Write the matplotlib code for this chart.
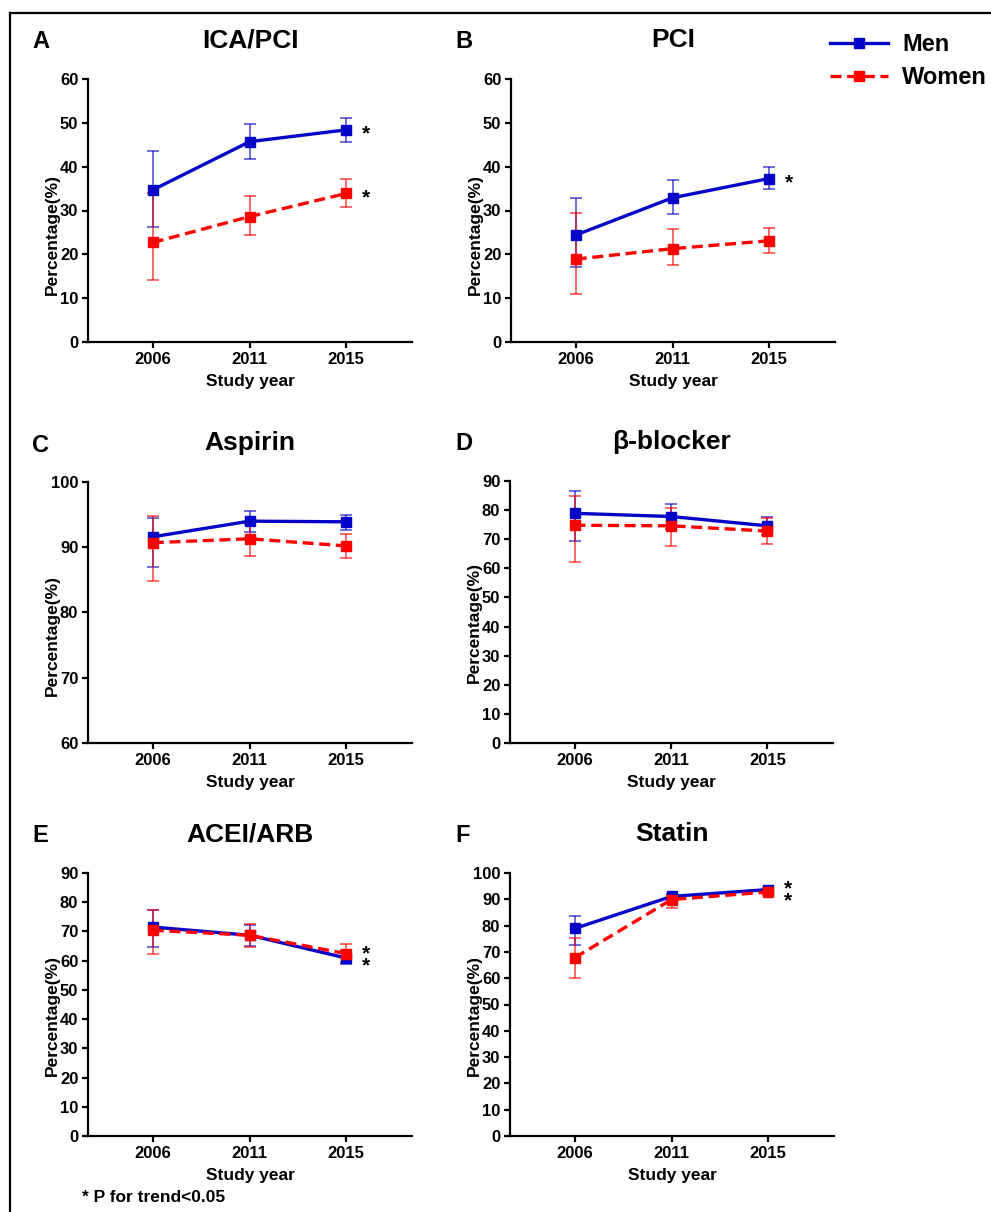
import matplotlib
matplotlib.use('Agg')
import matplotlib.pyplot as plt
from matplotlib.lines import Line2D

plt.rcParams['font.family'] = ['Liberation Sans', 'DejaVu Sans']
plt.rcParams['font.weight'] = 'bold'

years = ['2006', '2011', '2015']
xpos = [1, 2, 3]

# values (estimate, 95% CI lower, upper)
men_icapci = [34.7, 45.7, 48.4]
men_icapci_lo = [26.3, 41.7, 45.7]
men_icapci_hi = [43.6, 49.8, 51.1]
women_icapci = [22.7, 28.6, 33.9]
women_icapci_lo = [14.1, 24.4, 30.9]
women_icapci_hi = [33.9, 33.4, 37.1]

men_pci = [24.4, 32.9, 37.3]
men_pci_lo = [17.1, 29.2, 34.8]
men_pci_hi = [32.8, 36.9, 40.0]
women_pci = [18.9, 21.3, 23.1]
women_pci_lo = [10.9, 17.5, 20.4]
women_pci_hi = [29.5, 25.7, 26.1]

men_asp = [91.6, 94.0, 93.9]
men_asp_lo = [87.0, 92.3, 92.6]
men_asp_hi = [94.5, 95.6, 95.0]
women_asp = [90.7, 91.3, 90.2]
women_asp_lo = [84.9, 88.7, 88.3]
women_asp_hi = [94.8, 93.6, 92.0]

men_bb = [78.9, 77.8, 74.6]
men_bb_lo = [69.5, 73.6, 71.5]
men_bb_hi = [86.7, 82.1, 77.8]
women_bb = [74.8, 74.6, 72.8]
women_bb_lo = [62.3, 67.8, 68.4]
women_bb_hi = [84.9, 80.6, 77.2]

men_acei = [71.5, 68.7, 60.9]
men_acei_lo = [64.7, 64.9, 58.7]
men_acei_hi = [77.5, 72.1, 63.6]
women_acei = [70.4, 68.7, 62.4]
women_acei_lo = [62.2, 64.7, 59.6]
women_acei_hi = [77.5, 72.7, 65.8]

men_statin = [78.9, 91.1, 93.7]
men_statin_lo = [72.8, 89.6, 92.8]
men_statin_hi = [83.8, 92.2, 94.4]
women_statin = [67.8, 89.9, 92.8]
women_statin_lo = [59.9, 86.8, 91.5]
women_statin_hi = [75.1, 91.5, 94.1]

blue = '#0505c8'
red = '#ff0000'
dash = (0, (3.3, 1.7))

W, H = 991, 1212
fig = plt.figure(figsize=(W / 100, H / 100), dpi=100)


def rect(x0, y0, x1, y1):
    return [x0 / W, 1 - y1 / H, (x1 - x0) / W, (y1 - y0) / H]


# letter, title, box(px), ylim, ylabel y, men data, women data, trend stars
panels = [
    ('A', 'ICA/PCI', (88, 79, 412, 342), (0, 60), 0.41,
     (men_icapci, men_icapci_lo, men_icapci_hi), (women_icapci, women_icapci_lo, women_icapci_hi), 'each'),
    ('B', 'PCI', (511, 79, 835, 342), (0, 60), 0.41,
     (men_pci, men_pci_lo, men_pci_hi), (women_pci, women_pci_lo, women_pci_hi), 'men'),
    ('C', 'Aspirin', (88, 482, 412, 743), (60, 100), 0.41,
     (men_asp, men_asp_lo, men_asp_hi), (women_asp, women_asp_lo, women_asp_hi), None),
    ('D', 'β-blocker', (510, 481, 833, 743), (0, 90), 0.46,
     (men_bb, men_bb_lo, men_bb_hi), (women_bb, women_bb_lo, women_bb_hi), None),
    ('E', 'ACEI/ARB', (88, 873, 412, 1136), (0, 90), 0.46,
     (men_acei, men_acei_lo, men_acei_hi), (women_acei, women_acei_lo, women_acei_hi), 'stacked'),
    ('F', 'Statin', (510, 873, 834, 1136), (0, 100), 0.46,
     (men_statin, men_statin_lo, men_statin_hi), (women_statin, women_statin_lo, women_statin_hi), 'stacked'),
]

legend_lines = None
for letter, title, box, ylim, ylab_y, men, women, stars in panels:
    ax = fig.add_axes(rect(*box))
    for (vals, lo, hi), col in [(men, blue), (women, red)]:
        err = [[v - l for v, l in zip(vals, lo)], [h - v for v, h in zip(vals, hi)]]
        ax.errorbar(xpos, vals, yerr=err, fmt='none', ecolor=col, alpha=0.75,
                    elinewidth=1.1, capsize=4, capthick=1.1, zorder=2)
    l1, = ax.plot(xpos, men[0], color=blue, lw=2.4, marker='s', ms=7.5, zorder=3, label='Men')
    l2, = ax.plot(xpos, women[0], color=red, lw=2.4, ls=dash, marker='s', ms=7.5,
                  zorder=4, label='Women')
    if legend_lines is None:
        legend_lines = [l1, l2]

    star_kw = dict(textcoords='offset pixels', ha='left', fontsize=15, fontweight='bold')
    if stars in ('each', 'men'):
        ax.annotate('*', xy=(xpos[-1], men[0][-1]), xytext=(16, -10), va='baseline', **star_kw)
    if stars == 'each':
        ax.annotate('*', xy=(xpos[-1], women[0][-1]), xytext=(16, -10), va='baseline', **star_kw)
    if stars == 'stacked':
        mid = (men[0][-1] + women[0][-1]) / 2
        ax.annotate('*\n*', xy=(xpos[-1], mid), xytext=(16, -4), va='center', linespacing=0.5,
                    **star_kw)

    ax.set_xlim(0.33, 3.68)
    ax.set_ylim(*ylim)
    ax.set_yticks(range(ylim[0], ylim[1] + 1, 10))
    ax.set_xticks(xpos)
    ax.set_xticklabels(years)
    for s in ['top', 'right']:
        ax.spines[s].set_visible(False)
    for s in ['left', 'bottom']:
        ax.spines[s].set_linewidth(1.6)
    ax.tick_params(width=1.6, length=4, labelsize=12, pad=3)
    ax.set_ylabel('Percentage(%)', fontsize=12.5, fontweight='bold')
    ax.yaxis.set_label_coords(-28 / (box[2] - box[0]), ylab_y)
    ax.set_xlabel('Study year', fontsize=12.5, fontweight='bold', labelpad=5.5)

    cx = (box[0] + box[2]) / 2
    fig.text(cx / W, 1 - (box[1] - 39) / H, title, ha='center', va='center', fontsize=19)
    lx = 32 if box[0] < 300 else 455
    fig.text(lx / W, 1 - (box[1] - 37) / H, letter, ha='left', va='center', fontsize=17)

fig.legend(legend_lines, ['Men', 'Women'], loc='upper left', bbox_to_anchor=(830 / W, 1 - 33 / H),
           frameon=False, fontsize=17, handlelength=2.45, handletextpad=0.6, labelspacing=0.42,
           borderpad=0, borderaxespad=0, numpoints=1)

fig.text(82 / W, 1 - 1197 / H, '* P for trend<0.05', ha='left', va='center', fontsize=12.5)

# partial frame around the figure
fig.add_artist(Line2D([10 / W, 10 / W], [0, 1 - 13 / H], color='black', lw=1.6))
fig.add_artist(Line2D([10 / W, 1], [1 - 13 / H, 1 - 13 / H], color='black', lw=1.6))

fig.savefig('out.png', dpi=100)
